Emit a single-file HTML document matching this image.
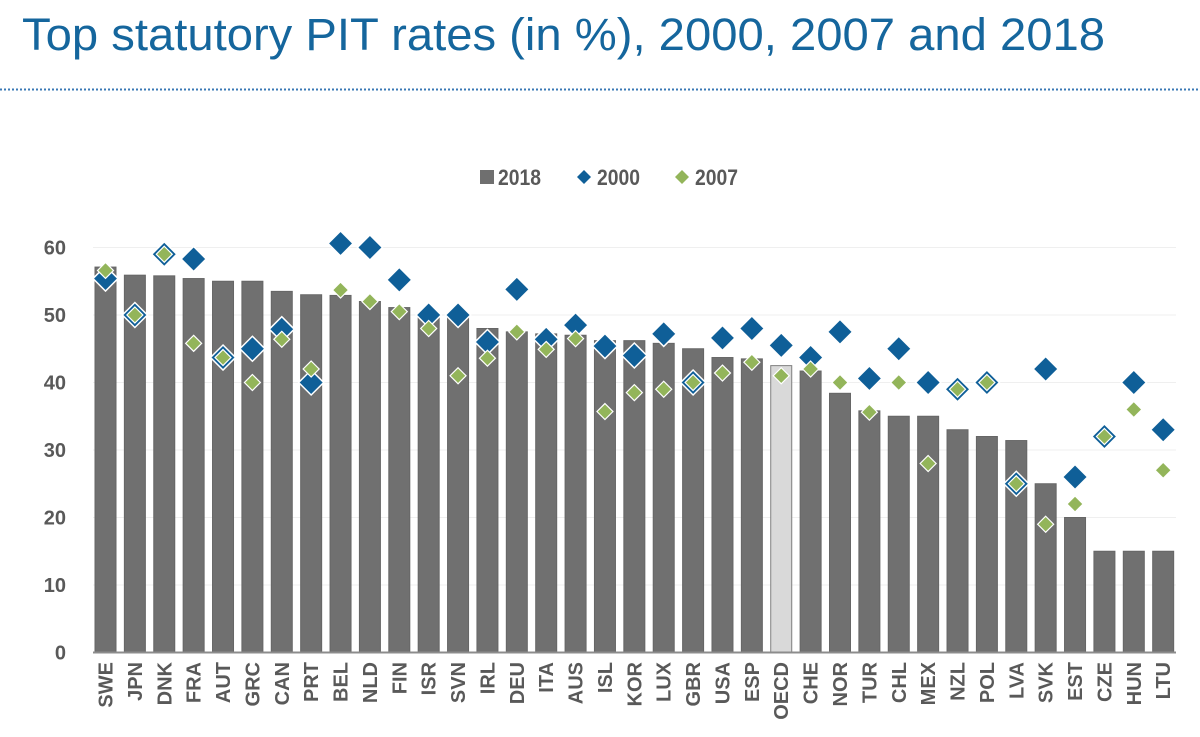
<!DOCTYPE html>
<html><head><meta charset="utf-8"><style>
body{margin:0;background:#fff;}
svg{display:block;font-family:"Liberation Sans",sans-serif;}
</style></head><body>
<svg id="c" width="1200" height="737" viewBox="0 0 1200 737">
<text x="22" y="50" font-size="45" fill="#15669d" textLength="1083" lengthAdjust="spacingAndGlyphs">Top statutory PIT rates (in %), 2000, 2007 and 2018</text>
<line x1="0" y1="89.5" x2="1200" y2="89.5" stroke="#3a78b5" stroke-width="2" stroke-dasharray="2,2"/>
<g>
<g><rect x="480" y="170" width="14" height="14" fill="#6f6f6f"/><text x="498" y="185" font-size="22" font-weight="bold" fill="#595959" textLength="43" lengthAdjust="spacingAndGlyphs">2018</text></g>
<g><path d="M584 170 L591 177 L584 184 L577 177Z" fill="#0f5f98"/><text x="597" y="185" font-size="22" font-weight="bold" fill="#595959" textLength="43" lengthAdjust="spacingAndGlyphs">2000</text></g>
<g><path d="M682 170 L689 177 L682 184 L675 177Z" fill="#93b55a"/><text x="695" y="185" font-size="22" font-weight="bold" fill="#595959" textLength="43" lengthAdjust="spacingAndGlyphs">2007</text></g>
</g>
<g id="grid"></g><g id="bars"></g><g id="marks"></g><g id="axes"></g>
</svg>
<script>
const categories=["SWE","JPN","DNK","FRA","AUT","GRC","CAN","PRT","BEL","NLD","FIN","ISR","SVN","IRL","DEU","ITA","AUS","ISL","KOR","LUX","GBR","USA","ESP","OECD","CHE","NOR","TUR","CHL","MEX","NZL","POL","LVA","SVK","EST","CZE","HUN","LTU"];
const values2018=[57.1,55.9,55.8,55.4,55,55,53.5,53,52.9,52,51.1,50,50,48,47.5,47.2,47,46.2,46.2,45.8,45,43.7,43.5,42.5,41.7,38.4,35.8,35,35,33,32,31.4,25,20,15,15,15];
const values2000=[55.4,50,59,58.3,43.7,45,47.9,40,60.6,60,55.2,50,50,46,53.8,46.4,48.5,45.4,44,47.2,40,46.6,48,45.5,43.7,47.5,40.6,45,40,39,40,25,42,26,32,40,33];
const values2007=[56.6,50,59,45.8,43.7,40,46.4,42,53.7,52,50.5,48,41,43.6,47.5,44.9,46.5,35.7,38.5,39,40,41.4,43,41,42,40,35.6,40,28,39,40,25,19,22,32,36,27];
const yTicks=[0,10,20,30,40,50,60];
const NS="http://www.w3.org/2000/svg";
const X0=105.5,STEP=29.38,Y0=652.5,PPU=6.75;
const xs=i=>X0+i*STEP, ys=v=>Y0-v*PPU;
function mk(tag,attrs,parent){const e=document.createElementNS(NS,tag);for(const k in attrs)e.setAttribute(k,attrs[k]);document.getElementById(parent).appendChild(e);return e;}
yTicks.forEach(t=>{
 if(t>0){const g=mk('line',{x1:93,x2:1176,y1:ys(t),y2:ys(t),stroke:'#efefef','stroke-width':1},'grid');
 
 }
 const l=mk('text',{x:66,y:ys(t)+7,'text-anchor':'end','font-size':20,'font-weight':'bold',fill:'#595959'},'axes');
 l.textContent=t;
 
 
});
categories.forEach((c,i)=>{
 const oecd=c==="OECD";
 const b=mk('rect',{x:xs(i)-10.5,y:ys(values2018[i]),width:21,height:values2018[i]*PPU,fill:oecd?'#d9d9d9':'#707070',stroke:oecd?'#7f7f7f':'#666','stroke-width':1},'bars');
 
 
 const t=mk('text',{transform:`translate(${xs(i)+7},662) rotate(-90)`,'text-anchor':'end','font-size':20,'font-weight':'bold',fill:'#595959'},'axes');
 t.textContent=c;
 
 
 const x=xs(i);
 let y=ys(values2000[i]),r=12.5;
 const d=mk('path',{d:`M${x} ${y-r}L${x+r} ${y}L${x} ${y+r}L${x-r} ${y}Z`,fill:'#0f5f98',stroke:'#fff','stroke-width':1.5},'marks');
 
 
 y=ys(values2007[i]);r=8;
 const g=mk('path',{d:`M${x} ${y-r}L${x+r} ${y}L${x} ${y+r}L${x-r} ${y}Z`,fill:'#93b55a',stroke:'#fff','stroke-width':1.2},'marks');
 
 
});
const ax=mk('line',{x1:93,x2:1176,y1:Y0,y2:Y0,stroke:'#8c8c8c','stroke-width':2},'axes');


</script>
</body></html>
